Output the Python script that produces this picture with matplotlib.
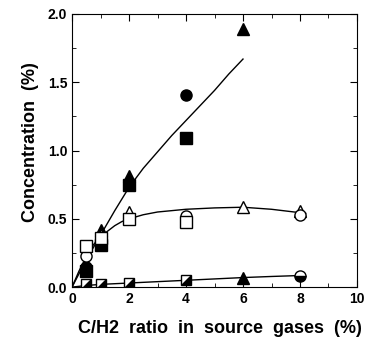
import matplotlib.pyplot as plt
import numpy as np

plt.rcParams['font.family'] = ['Liberation Sans', 'DejaVu Sans']
plt.rcParams['font.weight'] = 'bold'

############------input-----##############
# measured points (C/H2 ratio %, concentration %)
tri_f_x = [1, 2, 6]
tri_f_y = [0.42, 0.81, 1.89]
cir_f_x = [0.5, 4]
cir_f_y = [0.15, 1.41]
sq_f_x = [0.5, 1, 2, 4]
sq_f_y = [0.12, 0.31, 0.75, 1.09]

tri_o_x = [1, 2, 6, 8]
tri_o_y = [0.38, 0.55, 0.59, 0.56]
cir_o_x = [0.5, 4, 8]
cir_o_y = [0.23, 0.52, 0.53]
sq_o_x = [0.5, 1, 2, 4]
sq_o_y = [0.30, 0.36, 0.50, 0.48]

low_sq_x = [0.5, 1, 2, 4]
low_sq_y = [0.02, 0.02, 0.03, 0.05]
low_tri_x = [6]
low_tri_y = [0.07]
low_cir_x = [8]
low_cir_y = [0.085]

# fitted curves
fit1_x = [0, 0.25, 0.5, 0.75, 1, 1.5, 2, 2.5, 3, 3.5, 4, 4.5, 5, 5.5, 6]
fit1_y = [0, 0.1, 0.2, 0.29, 0.38, 0.56, 0.73, 0.87, 0.99, 1.11, 1.22, 1.33, 1.44, 1.56, 1.67]
fit2_x = [0, 0.25, 0.5, 0.75, 1, 1.25, 1.5, 1.75, 2, 2.5, 3, 3.5, 4, 5, 6, 7, 8, 8.2]
fit2_y = [0, 0.12, 0.22, 0.31, 0.37, 0.41, 0.45, 0.48, 0.5, 0.53, 0.55, 0.56, 0.57,
          0.58, 0.585, 0.57, 0.545, 0.54]
fit3_x = [0, 0.5, 1, 2, 3, 4, 5, 6, 7, 8]
fit3_y = [0, 0.012, 0.02, 0.03, 0.04, 0.05, 0.06, 0.07, 0.078, 0.085]

ms = 8
##########################################

# lower-right half of a square, for the diagonally shaded markers
half_sq = [(-1, -1), (1, -1), (1, 1), (-1, -1)]

fig = plt.figure(figsize=(3.81, 3.41), dpi=100)
ax = fig.add_axes([0.189, 0.158, 0.748, 0.801])

ax.plot(fit1_x, fit1_y, '-', color='k', lw=1)
ax.plot(fit2_x, fit2_y, '-', color='k', lw=1)
ax.plot(fit3_x, fit3_y, '-', color='k', lw=1)

ax.plot(tri_f_x, tri_f_y, '^', color='k', ms=ms, ls='none')
ax.plot(cir_f_x, cir_f_y, 'o', color='k', ms=ms, ls='none')
ax.plot(sq_f_x, sq_f_y, 's', color='k', ms=ms, ls='none')

ax.plot(tri_o_x, tri_o_y, '^', mfc='white', mec='k', ms=ms, ls='none')
ax.plot(cir_o_x, cir_o_y, 'o', mfc='white', mec='k', ms=ms, ls='none')
ax.plot(sq_o_x, sq_o_y, 's', mfc='white', mec='k', ms=ms, ls='none')

ax.plot(low_sq_x, low_sq_y, 's', mfc='white', mec='k', ms=ms - 1, ls='none')
ax.plot(low_sq_x, low_sq_y, marker=half_sq, color='k', ms=ms - 2, ls='none')
ax.plot(low_tri_x, low_tri_y, '^', color='k', ms=ms, ls='none')
ax.plot(low_cir_x, low_cir_y, 'o', color='k', mfcalt='white', fillstyle='bottom', ms=ms, ls='none')

ax.set_xlim(0, 10)
ax.set_ylim(0, 2.0)
ax.set_xticks(np.arange(0, 11, 2))
ax.set_xticks(np.arange(1, 10, 2), minor=True)
ax.set_yticks([0, 0.5, 1.0, 1.5, 2.0])
ax.set_yticklabels(['0.0', '0.5', '1.0', '1.5', '2.0'])
ax.set_yticks(np.arange(0.25, 2.0, 0.5), minor=True)
ax.tick_params(which='both', direction='in', top=True, right=True, labelsize=10)
ax.tick_params(which='major', length=5)
ax.tick_params(which='minor', length=3)

ax.set_xlabel('C/H2  ratio  in  source  gases  (%)', fontsize=13, fontweight='bold', labelpad=10)
ax.xaxis.label.set_x(0.52)
ax.set_ylabel('Concentration  (%)', fontsize=13, fontweight='bold')
ax.yaxis.set_label_coords(-0.115, 0.53)

plt.savefig('out.png')
